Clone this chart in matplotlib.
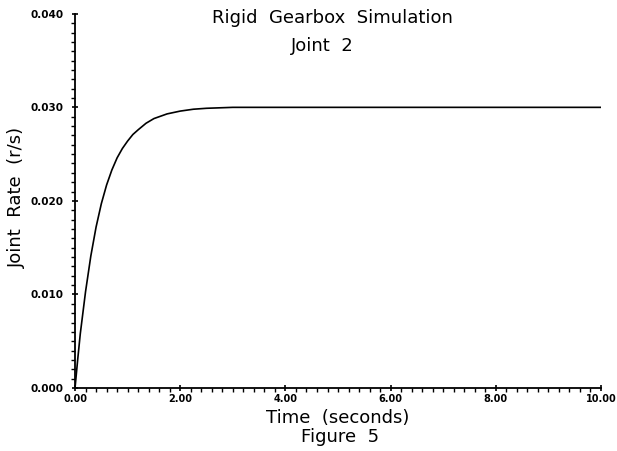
import matplotlib.pyplot as plt
from matplotlib.ticker import MultipleLocator

# Tidspunkt (s) og leddhastighet (r/s) lest av figuren
tid = [0.0, 0.05, 0.1, 0.2, 0.3, 0.4, 0.5, 0.6, 0.7, 0.8, 0.9, 1.0, 1.1,
       1.2, 1.35, 1.5, 1.75, 2.0, 2.25, 2.5, 3.0, 4.0, 6.0, 8.0, 10.0]
hastighet = [0.0, 0.0030, 0.0058, 0.0103, 0.0141, 0.0172, 0.0197, 0.0217,
             0.0233, 0.0246, 0.0256, 0.0264, 0.0271, 0.0276, 0.0283,
             0.0288, 0.0293, 0.0296, 0.0298, 0.0299, 0.0300,
             0.0300, 0.0300, 0.0300, 0.0300]

x_ticks = [0, 2, 4, 6, 8, 10]
x_labels = ['0.00', '2.00', '4.00', '6.00', '8.00', '10.00']
y_ticks = [0.0, 0.01, 0.02, 0.03, 0.04]
y_labels = ['0.000', '0.010', '0.020', '0.030', '0.040']

fig = plt.figure(figsize=(6.17, 4.51), dpi=100)
ax = fig.add_axes([0.1216, 0.1397, 0.8525, 0.8297])
ax.plot(tid, hastighet, color='black', linewidth=1.2)

ax.set_xlim(0, 10)
ax.set_ylim(0, 0.04)
ax.spines['top'].set_visible(False)
ax.spines['right'].set_visible(False)
ax.spines['left'].set_linewidth(1.3)
ax.spines['bottom'].set_linewidth(1.3)

ax.set_xticks(x_ticks)
ax.set_xticklabels(x_labels, fontsize=7, fontweight='bold')
ax.set_yticks(y_ticks)
ax.set_yticklabels(y_labels, fontsize=7.5, fontweight='bold')
ax.xaxis.set_minor_locator(MultipleLocator(0.2))
ax.yaxis.set_minor_locator(MultipleLocator(0.001))
ax.tick_params(axis='x', which='major', length=5, width=1.2, direction='inout', pad=2)
ax.tick_params(axis='y', which='major', length=5, width=1.2, direction='inout', pad=6)
ax.tick_params(axis='both', which='minor', length=3, width=1.0, direction='out')

# Tekster
fig.text(332/617, 1 - 18/451, 'Rigid  Gearbox  Simulation', ha='center', va='center', fontsize=13)
fig.text(322/617, 1 - 46/451, 'Joint  2', ha='center', va='center', fontsize=13)
fig.text(338/617, 1 - 418/451, 'Time  (seconds)', ha='center', va='center', fontsize=13)
fig.text(340/617, 1 - 437/451, 'Figure  5', ha='center', va='center', fontsize=13)
fig.text(17/617, 1 - 197/451, 'Joint  Rate  (r/s)', ha='center', va='center', rotation=90, fontsize=13)

plt.savefig('out.png', dpi=100)
